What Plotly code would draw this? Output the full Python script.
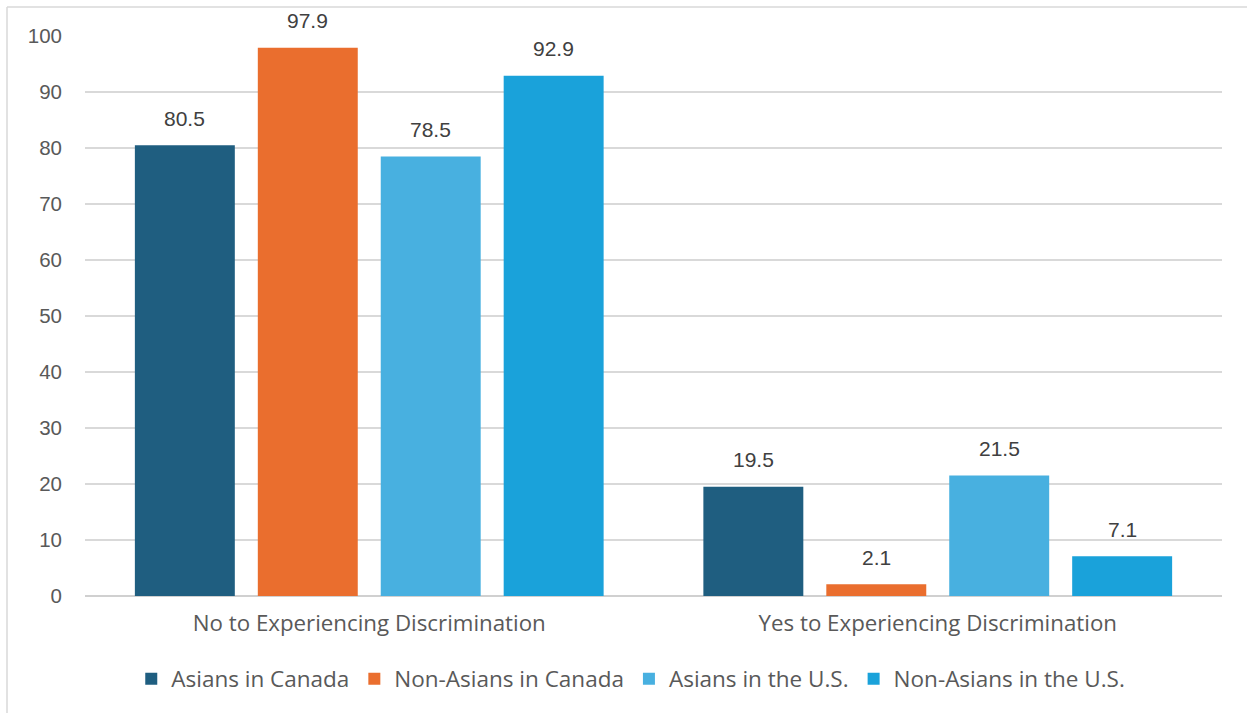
import plotly.graph_objects as go

# Survey responses (%) by group
categories = ["No to Experiencing Discrimination", "Yes to Experiencing Discrimination"]
series_names = ["Asians in Canada", "Non-Asians in Canada", "Asians in the U.S.", "Non-Asians in the U.S."]
asians_canada = [80.5, 19.5]
non_asians_canada = [97.9, 2.1]
asians_us = [78.5, 21.5]
non_asians_us = [92.9, 7.1]
y_ticks = [0, 10, 20, 30, 40, 50, 60, 70, 80, 90, 100]

series_values = [asians_canada, non_asians_canada, asians_us, non_asians_us]
colors = ["#1F5E80", "#EA6E2E", "#48B0E0", "#1AA2DA"]

W, H = 1247, 713
M_L, M_R, M_T, M_B = 85, 25, 36, 117
BARGAP = 0.135
BARGROUPGAP = 0.187

NUM_FONT = "Liberation Sans, Arial, sans-serif"
TXT_FONT = "Open Sans, sans-serif"

fig = go.Figure()
for name, vals, col in zip(series_names, series_values, colors):
    fig.add_trace(go.Bar(
        name=name, x=categories, y=vals,
        marker=dict(color=col, line=dict(width=0)),
        hovertemplate="%{x}<br>" + name + ": %{y}<extra></extra>",
    ))

# value labels above each bar, offset horizontally to the bar's slot in its group
plot_w = W - M_L - M_R
cat_w = plot_w / len(categories)
slot_w = cat_w * (1 - BARGAP) / len(series_names)
annotations = []
for i, vals in enumerate(series_values):
    dx = (i - (len(series_names) - 1) / 2) * slot_w
    for cat, v in zip(categories, vals):
        annotations.append(dict(
            x=cat, y=v, xref="x", yref="y", text=f"{v}",
            showarrow=False, xshift=dx, yshift=27, yanchor="middle",
            font=dict(family=NUM_FONT, size=21, color="#404040"),
        ))

plot_h = H - M_T - M_B
px_x = lambda p: (p - M_L) / plot_w
px_y = lambda p: (H - M_B - p) / plot_h

shapes = [
    dict(type="line", xref="paper", yref="paper", x0=px_x(7), x1=px_x(W + 5),
         y0=px_y(7), y1=px_y(7), line=dict(color="#D9D9D9", width=1.5)),
    dict(type="line", xref="paper", yref="paper", x0=px_x(7), x1=px_x(7),
         y0=px_y(7), y1=px_y(H + 5), line=dict(color="#D9D9D9", width=1.5)),
]

fig.update_layout(
    width=W, height=H,
    margin=dict(l=M_L, r=M_R, t=M_T, b=M_B),
    paper_bgcolor="white", plot_bgcolor="white",
    barmode="group", bargap=BARGAP, bargroupgap=BARGROUPGAP,
    font=dict(family=NUM_FONT, color="#595959"),
    xaxis=dict(
        showgrid=False, showline=False, ticks="",
        tickfont=dict(family=TXT_FONT, size=22.3, color="#595959"),
        ticklabelstandoff=12,
    ),
    yaxis=dict(
        range=[0, 100], tickvals=y_ticks, showgrid=True,
        gridcolor="#D9D9D9", gridwidth=1.5,
        zeroline=True, zerolinecolor="#D0D0D0", zerolinewidth=1.8,
        showline=False, ticks="",
        tickfont=dict(family=NUM_FONT, size=20.5, color="#595959"),
        ticklabelstandoff=22,
    ),
    legend=dict(
        orientation="h", x=0.48, xanchor="center", y=px_y(679), yanchor="middle",
        font=dict(family=TXT_FONT, size=22.5, color="#595959"),
        itemwidth=30, traceorder="normal",
    ),
    annotations=annotations,
    shapes=shapes,
    showlegend=True,
)

fig.write_html("out.html")
